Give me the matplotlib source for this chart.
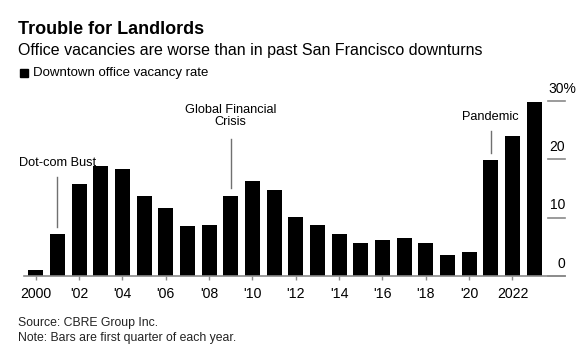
import numpy as np
import matplotlib
matplotlib.use('Agg')
import matplotlib.pyplot as plt
from matplotlib.transforms import blended_transform_factory
from matplotlib.patches import Rectangle

plt.rcParams['font.family'] = ['Liberation Sans', 'DejaVu Sans']

# Downtown SF office vacancy rate, first quarter of each year (%)
years = list(range(2000, 2024))
vacancy = [1.0, 7.1, 15.7, 18.9, 18.3, 13.7, 11.7, 8.6, 8.7, 13.7, 16.3, 14.7,
           10.1, 8.7, 7.2, 5.6, 6.1, 6.4, 5.7, 3.6, 4.0, 19.8, 24.0, 29.8]
tick_years = list(range(2000, 2023, 2))
tick_labels = ['2000', "'02", "'04", "'06", "'08", "'10", "'12", "'14",
               "'16", "'18", "'20", '2022']
y_ticks = [0, 10, 20, 30]

# annotations: (year, text, text y px from top, line top px, line bottom px)
events = [(2001, 'Dot-com Bust', 163, 177, 227),
          (2009, 'Global Financial\nCrisis', 116, 139, 188),
          (2021, 'Pandemic', 117, 131, 153)]

W, H = 587, 357
fig = plt.figure(figsize=(W / 100, H / 100), dpi=100)
fig.patch.set_facecolor('white')

# axes placed in pixel terms
left_px, right_px = 24, 565
base_px, top_px = 275.7, 95
ax = fig.add_axes([left_px / W, (H - base_px) / H, (right_px - left_px) / W,
                   (base_px - top_px) / H])
px_per_year = 21.67
x0 = 2000 - (35.7 - left_px) / px_per_year
ax.set_xlim(x0, x0 + (right_px - left_px) / px_per_year)
px_per_pct = 5.82
ax.set_ylim(0, (base_px - top_px) / px_per_pct)

ax.bar(years, vacancy, width=0.69, color='black', zorder=2)

for s in ['top', 'right', 'left']:
    ax.spines[s].set_visible(False)
ax.spines['bottom'].set_color('#8a8a8a')
ax.spines['bottom'].set_linewidth(1.2)
ax.set_yticks([])
ax.set_xticks(tick_years)
ax.set_xticklabels(tick_labels, fontsize=10.2)
ax.tick_params(axis='x', length=3, width=1, color='#8a8a8a', pad=5)

# right side value labels with short lines
trans = blended_transform_factory(ax.transAxes, ax.transData)
xs = (548 - left_px) / (right_px - left_px)
for v in y_ticks:
    ax.plot([xs, 1.0], [v, v], transform=trans, color='#8a8a8a', lw=1.2,
            clip_on=False, zorder=1)
    if v == y_ticks[-1]:
        ax.annotate(f'{v}%', xy=(xs, v), xycoords=trans, xytext=(0.3, 5.8),
                    textcoords='offset points', ha='left', va='baseline',
                    fontsize=10)
    else:
        ax.annotate(str(v), xy=(1.0, v), xycoords=trans, xytext=(0, 5.8),
                    textcoords='offset points', ha='right', va='baseline',
                    fontsize=10)

# event annotations
for yr, txt, ty, l_top, l_bot in events:
    xf = (left_px + (yr - x0) * px_per_year) / W
    fig.add_artist(plt.Line2D([xf, xf], [1 - l_top / H, 1 - l_bot / H],
                              color='#707070', lw=1))
    fig.text(xf, 1 - ty / H, txt, ha='center', va='center', fontsize=9.2,
             linespacing=1.0)

# header
fig.text(18 / W, 1 - 29 / H, 'Trouble for Landlords', fontsize=13,
         fontweight='bold', va='center', ha='left')
fig.text(18 / W, 1 - 51 / H,
         'Office vacancies are worse than in past San Francisco downturns',
         fontsize=11.5, va='center', ha='left')
fig.add_artist(Rectangle((20 / W, 1 - 77 / H), 8 / W, 8 / H,
                         transform=fig.transFigure, color='black'))
fig.text(33 / W, 1 - 73 / H, 'Downtown office vacancy rate', fontsize=9.5,
         va='center', ha='left')

# footer
fig.text(18 / W, 1 - 323 / H, 'Source: CBRE Group Inc.', fontsize=8.8,
         va='center', ha='left', color='#222222')
fig.text(18 / W, 1 - 337.5 / H, 'Note: Bars are first quarter of each year.',
         fontsize=8.8, va='center', ha='left', color='#222222')

fig.savefig('out.png', dpi=100)
